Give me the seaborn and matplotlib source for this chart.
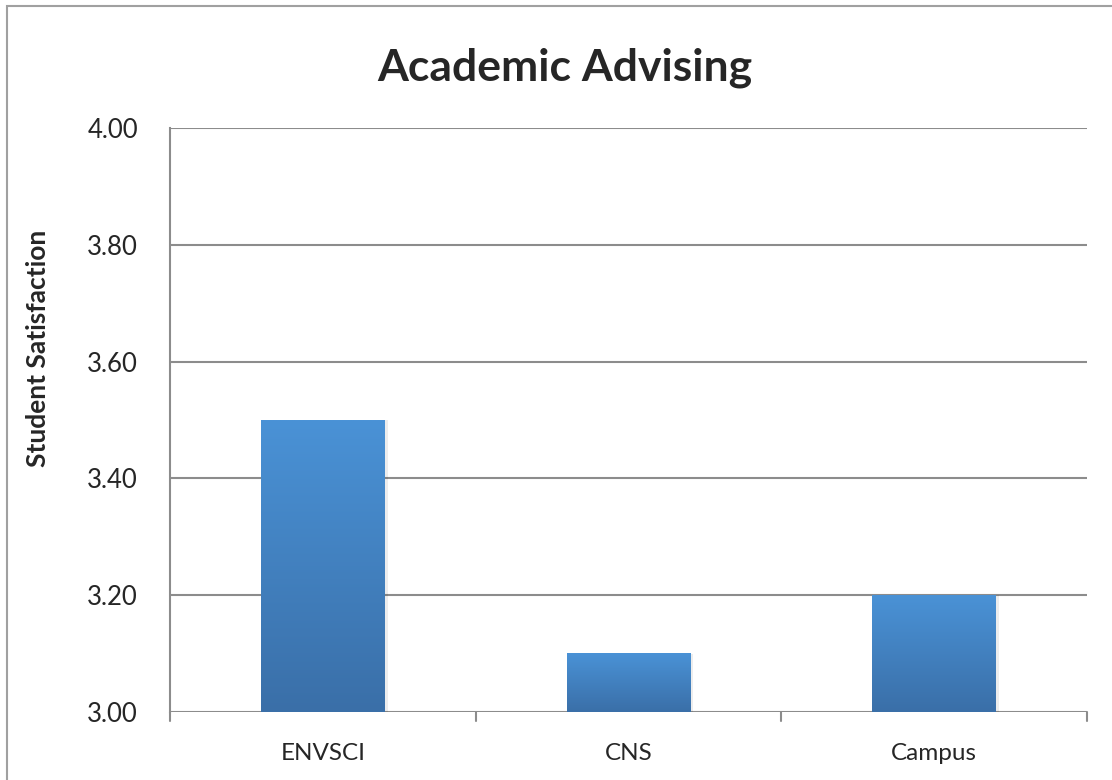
import numpy as np
import pandas as pd
import seaborn as sns
import matplotlib
matplotlib.use("Agg")
import matplotlib.pyplot as plt
from matplotlib.colors import LinearSegmentedColormap
from matplotlib.patches import Rectangle

# data
groups = ["ENVSCI", "CNS", "Campus"]
satisfaction = [3.50, 3.10, 3.20]
y_ticks = [3.00, 3.20, 3.40, 3.60, 3.80, 4.00]

df = pd.DataFrame({"group": groups, "score": satisfaction})

sns.set_style("white")
plt.rcParams["font.family"] = ["Lato", "DejaVu Sans"]

fig = plt.figure(figsize=(11.12, 7.80), dpi=100)
ax = fig.add_axes([0.1529, 0.0872, 0.8246, 0.7487])

grey = "#8c8c8c"
ymin, ymax = 3.0, 4.0
sns.barplot(data=df, x="group", y="score", color="#4a90d4", width=0.405,
            saturation=1, linewidth=0, ax=ax, zorder=3)

ax.set_ylim(ymin, ymax)
ax.set_xlim(-0.5, 2.5)
ax.set_yticks(y_ticks)
ax.set_yticklabels([f"{v:.2f}" for v in y_ticks], fontsize=18.5)
ax.set_xlabel("")
ax.set_ylabel("")
ax.tick_params(axis="x", length=0, labelsize=17.5, pad=22)
ax.tick_params(axis="y", length=9, color=grey, width=1.5, pad=14)

# category boundary ticks on x axis
for xb in [-0.5, 0.5, 1.5, 2.5]:
    ax.plot([xb, xb], [0, -0.016], transform=ax.get_xaxis_transform(),
            color=grey, lw=1.5, clip_on=False, zorder=2)

ax.yaxis.grid(True, color=grey, lw=1.5, zorder=0)
ax.set_axisbelow(True)
for s in ["top", "right", "bottom"]:
    ax.spines[s].set_visible(False)
ax.spines["left"].set_color(grey)
ax.spines["left"].set_linewidth(1.5)

# gradient fill on bars, light at top, darker at bottom
cmap = LinearSegmentedColormap.from_list("bar", ["#3a6fa8", "#4a92d6"])
grad = np.linspace(0, 1, 256).reshape(-1, 1)
for p in ax.patches:
    x0, w = p.get_x(), p.get_width()
    top = p.get_y() + p.get_height()
    # soft shadow on the right side
    ax.add_patch(Rectangle((x0 + w, ymin), 0.01, top - ymin, color="#000000",
                           alpha=0.07, lw=0, zorder=2))
    ax.imshow(grad, extent=[x0, x0 + w, ymin, top], origin="lower",
              cmap=cmap, aspect="auto", zorder=4)
ax.set_xlim(-0.5, 2.5)
ax.set_ylim(ymin, ymax)

fig.text(0.508, 0.913, "Academic Advising", ha="center", va="center",
         fontsize=32, fontweight="bold")
fig.text(0.034, 0.553, "Student Satisfaction", ha="center", va="center",
         rotation=90, fontsize=19, fontweight="bold")

# outer chart border (left and top visible)
fig.add_artist(Rectangle((7 / 1112, -0.1), 1.2, 1.1 - 6 / 780,
                         transform=fig.transFigure, fill=False,
                         edgecolor="#a0a0a0", lw=1.5))

fig.savefig("out.png", dpi=100)
